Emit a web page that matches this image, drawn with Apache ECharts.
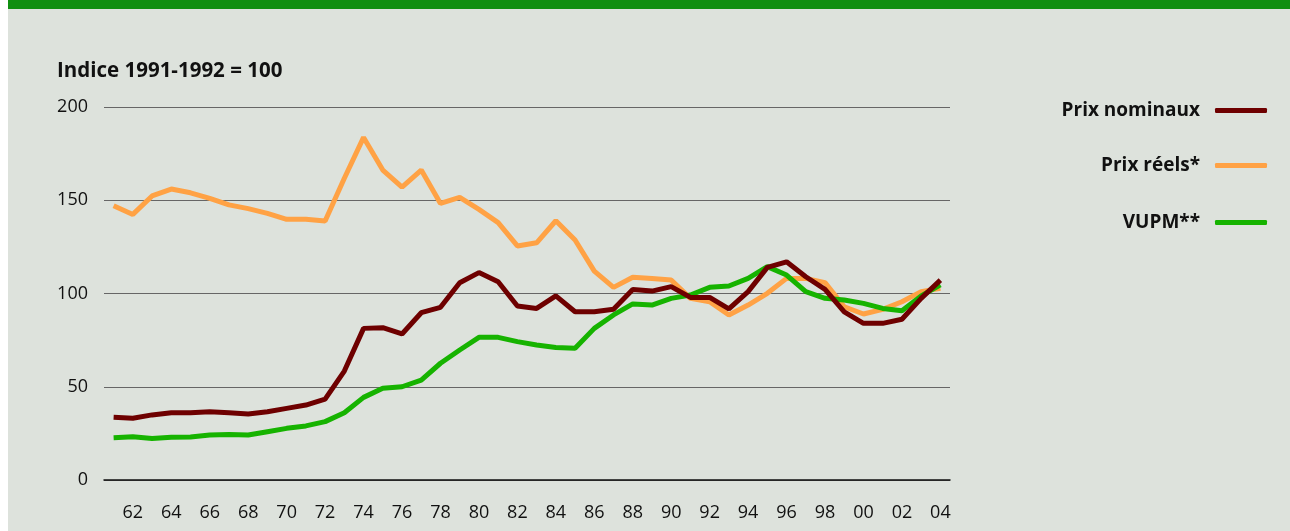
<!DOCTYPE html>
<html>
<head>
<meta charset="utf-8">
<script src="https://cdn.jsdelivr.net/npm/echarts@6/dist/echarts.min.js"></script>
<style>
  html, body { margin: 0; padding: 0; background: #fff; }
  #bar { position: absolute; left: 8px; top: 0; width: 1282px; height: 9px; background: #108f10; }
  #chart { position: absolute; left: 8px; top: 9px; width: 1282px; height: 522px; background: #dde2dc; }
</style>
</head>
<body>
<div id="bar"></div>
<div id="chart"></div>
<script>
// années 1961-2004
var years = []
for (var y = 1961; y <= 2004; y++) years.push(String(y).slice(2))

var prixNominaux = [33.6, 33.1, 34.9, 36.1, 36.1, 36.6, 36.1, 35.4, 36.6, 38.4, 40.2, 43.4, 58.4, 81.3,
  81.7, 78.3, 89.7, 92.6, 105.8, 111.2, 106.3, 93.3, 92.0, 98.7, 90.2, 90.2, 91.5, 102.2, 101.3,
  103.7, 97.9, 97.9, 91.7, 101.0, 114.0, 117.0, 109.0, 102.2, 90.2, 84.0, 84.0, 86.2, 97.4, 107.2]

var prixReels = [147.1, 142.4, 152.3, 156.0, 154.0, 151.0, 147.5, 145.5, 143.0, 139.8, 139.8, 138.9, 161.8, 183.7,
  166.2, 157.0, 166.2, 148.3, 151.6, 145.1, 138.0, 125.5, 127.2, 139.0, 128.7, 112.0, 103.3, 108.7, 108.1,
  107.2, 97.4, 95.6, 88.5, 93.8, 100.1, 108.1, 108.1, 105.8, 92.9, 89.0, 91.5, 95.6, 101.0, 102.8]

var vupm = [22.7, 23.2, 22.3, 22.9, 23.1, 24.1, 24.4, 24.1, 25.9, 27.7, 29.0, 31.3, 36.1, 44.3,
  49.2, 50.0, 53.6, 62.6, 69.7, 76.5, 76.5, 74.2, 72.4, 71.1, 70.6, 81.3, 88.5, 94.4, 93.8,
  97.4, 99.2, 103.3, 104.0, 108.1, 114.4, 109.9, 101.0, 97.4, 96.5, 94.7, 92.0, 90.8, 98.7, 104.6]

var yTicks = [0, 50, 100, 150, 200]

var font = '"Open Sans", "DejaVu Sans", sans-serif'

function legendAt(name, top) {
  return {
    data: [name],
    right: 23,
    top: top,
    align: 'right',
    icon: 'roundRect',
    itemWidth: 52,
    itemHeight: 5,
    itemGap: 0,
    padding: 0,
    selectedMode: false,
    textStyle: { fontFamily: font, fontSize: 19, fontWeight: 'bold', color: '#111', padding: [0, 10, 0, 0] }
  }
}

var chart = echarts.init(document.getElementById('chart'))
chart.setOption({
  animation: false,
  title: {
    text: 'Indice 1991-1992 = 100',
    left: 49,
    top: 52,
    padding: 0,
    textStyle: { fontFamily: font, fontSize: 20.5, fontWeight: 'bold', color: '#111' }
  },
  legend: [
    legendAt('Prix nominaux', 92),
    legendAt('Prix réels*', 147),
    legendAt('VUPM**', 204)
  ],
  grid: { left: 96, right: 340, top: 98, bottom: 51 },
  xAxis: {
    type: 'category',
    data: years,
    boundaryGap: true,
    axisLine: { lineStyle: { color: '#111', width: 1.5 } },
    axisTick: {
      alignWithLabel: true,
      length: 9,
      interval: function (i) { return i % 2 === 1 },
      lineStyle: { color: '#111', width: 1.5 }
    },
    axisLabel: {
      interval: function (i) { return i % 2 === 1 },
      margin: 24,
      fontFamily: font,
      fontSize: 18,
      color: '#111'
    }
  },
  yAxis: {
    type: 'value',
    min: yTicks[0],
    max: yTicks[yTicks.length - 1],
    interval: 50,
    axisLine: { show: false },
    axisTick: { show: false },
    axisLabel: { margin: 16, fontFamily: font, fontSize: 18, color: '#111' },
    splitLine: { lineStyle: { color: '#666', width: 1 } }
  },
  series: [
    {
      name: 'Prix réels*', type: 'line', data: prixReels, symbol: 'none',
      lineStyle: { color: '#ffa245', width: 5 }, itemStyle: { color: '#ffa245' }, z: 2
    },
    {
      name: 'VUPM**', type: 'line', data: vupm, symbol: 'none',
      lineStyle: { color: '#16b300', width: 5 }, itemStyle: { color: '#16b300' }, z: 3
    },
    {
      name: 'Prix nominaux', type: 'line', data: prixNominaux, symbol: 'none',
      lineStyle: { color: '#6e0000', width: 5 }, itemStyle: { color: '#6e0000' }, z: 4
    }
  ]
})
</script>
</body>
</html>
